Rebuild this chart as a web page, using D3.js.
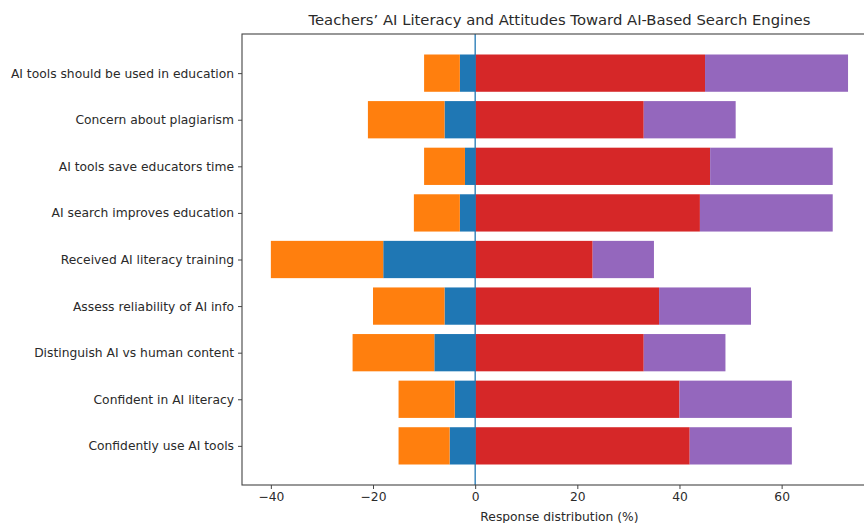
<!DOCTYPE html>
<html>
<head>
<meta charset="utf-8">
<script src="https://cdn.jsdelivr.net/npm/d3@7"></script>
<style>
  body { margin: 0; background: #fff; }
  svg { display: block; }
</style>
</head>
<body>
<div id="chart"></div>
<script>
// ── Data (percent of respondents; neutral omitted) ─────────────────────────
const items = [
  "AI tools should be used in education",
  "Concern about plagiarism",
  "AI tools save educators time",
  "AI search improves education",
  "Received AI literacy training",
  "Assess reliability of AI info",
  "Distinguish AI vs human content",
  "Confident in AI literacy",
  "Confidently use AI tools"
];
const stronglyDisagree = [3, 6, 2, 3, 18, 6, 8, 4, 5];
const disagree         = [7, 15, 8, 9, 22, 14, 16, 11, 10];
const agree            = [45, 33, 46, 44, 23, 36, 33, 40, 42];
const stronglyAgree    = [28, 18, 24, 26, 12, 18, 16, 22, 20];
const xTicks = [-40, -20, 0, 20, 40, 60];

const W = 864, H = 523;
const M = { l: 242, r: 876.9, t: 34, b: 485 };
const FONT = '"DejaVu Sans", sans-serif';
const TXT = '#2a2a2a';
const C = { sd: '#1f77b4', d: '#ff7f0e', a: '#d62728', sa: '#9467bd' };

const svg = d3.select('#chart').append('svg')
  .attr('width', W).attr('height', H)
  .style('font-family', FONT);

// matplotlib-style limits: bars span -0.4..8.4 with 5% margins
const x = d3.scaleLinear().domain([-45.65, 78.65]).range([M.l, M.r]);
const y = d3.scaleLinear().domain([-0.84, 8.84]).range([M.t, M.b]);
const half = 0.4;

// ── Bars ───────────────────────────────────────────────────────────────────
const rows = items.map((name, i) => ({
  i, name,
  segs: [
    { x0: -stronglyDisagree[i], x1: 0, c: C.sd },
    { x0: -(stronglyDisagree[i] + disagree[i]), x1: -stronglyDisagree[i], c: C.d },
    { x0: 0, x1: agree[i], c: C.a },
    { x0: agree[i], x1: agree[i] + stronglyAgree[i], c: C.sa }
  ]
}));

const gBars = svg.append('g');
rows.forEach(r => {
  gBars.selectAll(null).data(r.segs).enter().append('rect')
    .attr('x', d => x(d.x0))
    .attr('width', d => x(d.x1) - x(d.x0))
    .attr('y', y(r.i - half))
    .attr('height', y(r.i + half) - y(r.i - half))
    .attr('fill', d => d.c);
});

// zero line
svg.append('line')
  .attr('x1', x(0)).attr('x2', x(0))
  .attr('y1', M.t).attr('y2', M.b)
  .attr('stroke', C.sd).attr('stroke-width', 1.3);

// ── Axes ───────────────────────────────────────────────────────────────────
const xAxis = svg.append('g')
  .attr('transform', `translate(0,${M.b})`)
  .call(d3.axisBottom(x).tickValues(xTicks).tickSize(4).tickPadding(3));
xAxis.select('.domain').remove();
xAxis.selectAll('text').attr('font-size', 12.3).attr('font-family', FONT).attr('fill', TXT);
xAxis.selectAll('line').attr('stroke', '#444');

const yAxis = svg.append('g')
  .attr('transform', `translate(${M.l},0)`)
  .call(d3.axisLeft(y).tickValues(d3.range(items.length))
    .tickFormat(i => items[i]).tickSize(4).tickPadding(4));
yAxis.select('.domain').remove();
yAxis.selectAll('text').attr('font-size', 12.3).attr('font-family', FONT).attr('fill', TXT);
yAxis.selectAll('line').attr('stroke', '#444');

// frame
svg.append('rect')
  .attr('x', M.l).attr('y', M.t)
  .attr('width', M.r - M.l).attr('height', M.b - M.t)
  .attr('fill', 'none').attr('stroke', '#444').attr('stroke-width', 1.1);

// ── Labels ─────────────────────────────────────────────────────────────────
svg.append('text')
  .attr('x', (M.l + M.r) / 2).attr('y', 25)
  .attr('text-anchor', 'middle').attr('font-size', 14.8).attr('fill', TXT)
  .text('Teachers’ AI Literacy and Attitudes Toward AI-Based Search Engines');

svg.append('text')
  .attr('x', (M.l + M.r) / 2).attr('y', 521)
  .attr('text-anchor', 'middle').attr('font-size', 12.3).attr('fill', TXT)
  .text('Response distribution (%)');
</script>
</body>
</html>
